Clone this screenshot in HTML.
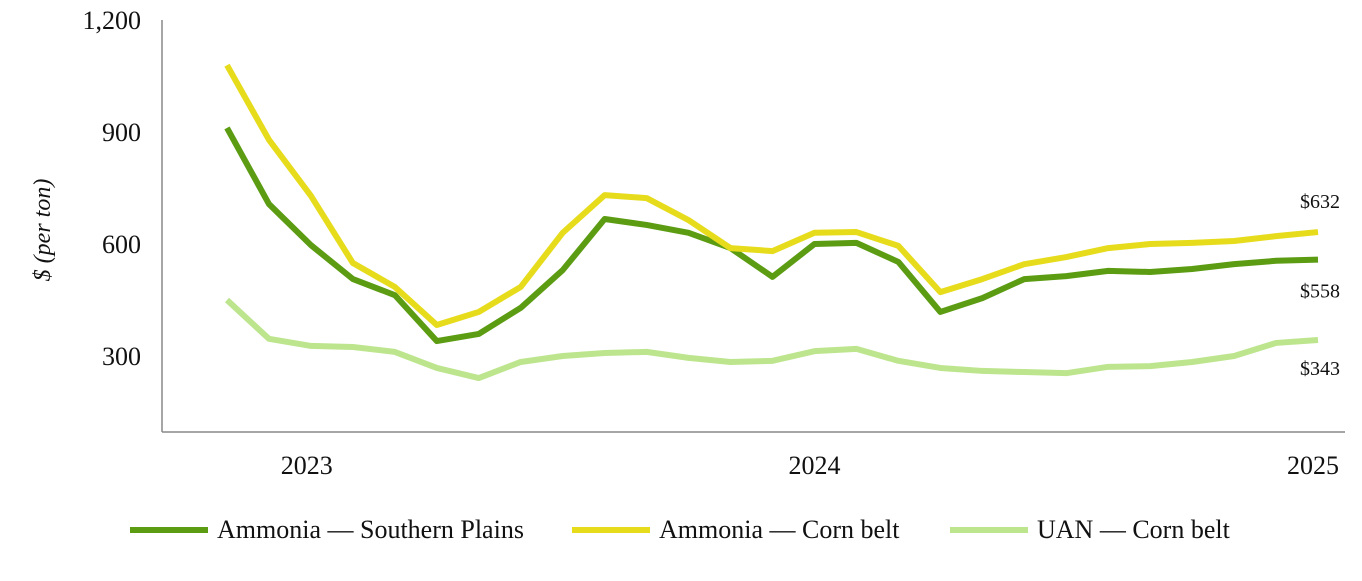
<!DOCTYPE html>
<html><head><meta charset="utf-8"><style>
body{margin:0;background:#fff;font-family:"Liberation Serif",serif;}
svg text{font-family:"Liberation Serif",serif;fill:#111;}
</style></head><body>
<svg id="chart" width="1362" height="576" xmlns="http://www.w3.org/2000/svg">
<g id="axes"></g><g id="series"></g><g id="legend"></g>
</svg>
<script>
const yTicks=[300,600,900,1200];
const yTickLabels=["300","600","900","1,200"];
const xLabels=["2023","2024","2025"];
const xLabelIdx=[1.9,14,26];
const ammoniaSP=[911,707,597,506,463,340,359,429,530,667,651,630,589,512,600,603,552,418,455,506,514,528,525,533,546,555,558];
const ammoniaCB=[1079,879,729,549,485,383,418,485,630,731,723,664,589,581,630,632,595,471,506,546,565,589,600,603,608,621,632];
const uanCB=[450,346,327,324,311,268,241,284,300,308,311,295,284,287,313,319,287,268,260,257,254,271,273,284,300,335,343];
const seriesNames=["Ammonia — Southern Plains","Ammonia — Corn belt","UAN — Corn belt"];
const endLabels=["$558","$632","$343"];
const NS="http://www.w3.org/2000/svg";
const y=v=>356-(v-300)*112/300;
const x=i=>227+i*(1318-227)/26;
function mk(t,a,p){const e=document.createElementNS(NS,t);for(const k in a)e.setAttribute(k,a[k]);p.appendChild(e);return e;}
const ax=document.getElementById('axes');
let e=mk('line',{x1:162,y1:20,x2:162,y2:432,stroke:'#888','stroke-width':1.5},ax);


e=mk('line',{x1:162,y1:432,x2:1345,y2:432,stroke:'#888','stroke-width':1.5},ax);


yTicks.forEach((v,i)=>{const t=mk('text',{x:141,y:y(v)+9,'text-anchor':'end','font-size':26},ax);t.textContent=yTickLabels[i];

});
xLabels.forEach((l,i)=>{const t=mk('text',{x:Math.min(x(xLabelIdx[i]),1313),y:474,'text-anchor':'middle','font-size':26},ax);t.textContent=l;

});
e=mk('text',{x:0,y:0,transform:'translate(50,230) rotate(-90)','text-anchor':'middle','font-size':24,'font-style':'italic'},ax);
e.textContent='$ (per ton)';


const colors=['#5c9c12','#e6dc1c','#bde58e'];
const data=[ammoniaSP,ammoniaCB,uanCB];
const sg=document.getElementById('series');
[2,0,1].forEach(s=>{const p=mk('polyline',{points:data[s].map((v,i)=>x(i)+','+y(v)).join(' '),fill:'none',stroke:colors[s],'stroke-width':6,'stroke-linejoin':'round'},sg);

});
const endOff=[38,-24,35];
data.forEach((d,s)=>{const v=d[d.length-1];const t=mk('text',{x:1320,y:y(v)+endOff[s],'text-anchor':'middle','font-size':20},sg);t.textContent=endLabels[s];

});
const lg=document.getElementById('legend');
const lx=[130,572,950];
seriesNames.forEach((n,s)=>{const l=mk('line',{x1:lx[s],y1:530,x2:lx[s]+78,y2:530,stroke:colors[s],'stroke-width':6},lg);


const t=mk('text',{x:lx[s]+87,y:538,'font-size':26},lg);t.textContent=n;

});
</script>
</body></html>
